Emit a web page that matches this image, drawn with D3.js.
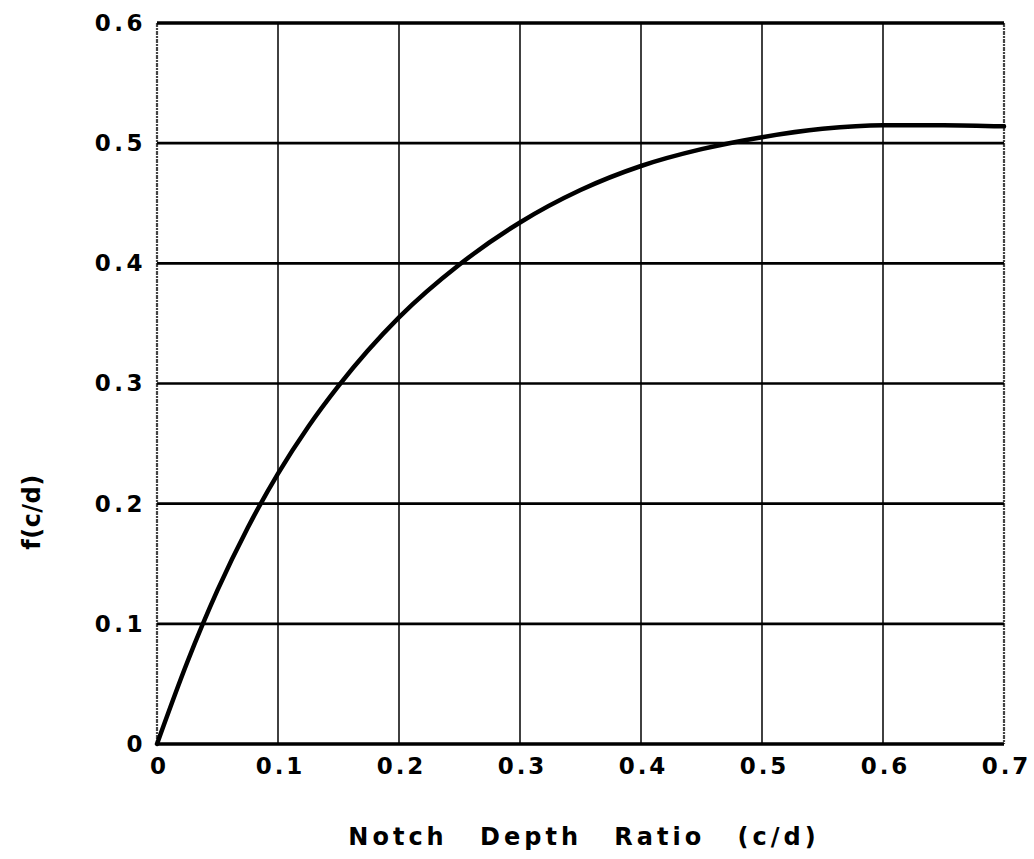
<!DOCTYPE html>
<html>
<head>
<meta charset="utf-8">
<script src="https://cdn.jsdelivr.net/npm/d3@7"></script>
<style>
  html, body { margin: 0; padding: 0; background: #fff; }
  svg { display: block; }
</style>
</head>
<body>
<svg id="chart" width="1034" height="859"></svg>
<script>
// ---- data ----
const ratioValues = [0, 0.025, 0.05, 0.075, 0.1, 0.125, 0.15, 0.2, 0.25, 0.3, 0.35, 0.4, 0.45, 0.5, 0.55, 0.6, 0.65, 0.7];
const fValues     = [0, 0.068, 0.128, 0.180, 0.225, 0.264, 0.298, 0.355, 0.399, 0.434, 0.461, 0.481, 0.495, 0.505, 0.512, 0.515, 0.515, 0.514];
const xTickValues = [0, 0.1, 0.2, 0.3, 0.4, 0.5, 0.6, 0.7];
const xTickLabels = ["0", "0.1", "0.2", "0.3", "0.4", "0.5", "0.6", "0.7"];
const yTickValues = [0, 0.1, 0.2, 0.3, 0.4, 0.5, 0.6];
const yTickLabels = ["0", "0.1", "0.2", "0.3", "0.4", "0.5", "0.6"];
const xTitle = "Notch Depth Ratio (c/d)";
const yTitle = "f(c/d)";

(function () {
const svg = d3.select("#chart");
const mLeft = 157, mRight = 1004, mTop = 23, mBottom = 744;

const x = d3.scaleLinear().domain([0, 0.7]).range([mLeft, mRight]);
const y = d3.scaleLinear().domain([0, 0.6]).range([mBottom, mTop]);

const labelFont = "'DejaVu Sans', sans-serif";

// vertical grid lines (interior, thin)
svg.append("g").selectAll("line")
  .data(xTickValues.filter(v => v > 0 && v < 0.7))
  .join("line")
  .attr("x1", d => x(d)).attr("x2", d => x(d))
  .attr("y1", y(0.6)).attr("y2", y(0))
  .attr("stroke", "#111").attr("stroke-width", 1.6);

// left / right borders (speckled)
svg.append("g").selectAll("line")
  .data([0, 0.7])
  .join("line")
  .attr("x1", d => x(d)).attr("x2", d => x(d))
  .attr("y1", y(0.6)).attr("y2", y(0))
  .attr("stroke", "#444").attr("stroke-width", 2.2)
  .attr("stroke-dasharray", "4,1,2,1");

// horizontal grid lines (thick)
svg.append("g").selectAll("line")
  .data(yTickValues)
  .join("line")
  .attr("x1", x(0)).attr("x2", x(0.7))
  .attr("y1", d => y(d)).attr("y2", d => y(d))
  .attr("stroke", "#000")
  .attr("stroke-width", d => (d === 0 || d === 0.6) ? 3.4 : 2.6);

// curve
const line = d3.line()
  .x((d, i) => x(ratioValues[i]))
  .y(d => y(d))
  .curve(d3.curveMonotoneX);

svg.append("path")
  .datum(fValues)
  .attr("d", line)
  .attr("fill", "none")
  .attr("stroke", "#000")
  .attr("stroke-width", 4.5)
  .attr("stroke-linecap", "round");

// x-axis tick labels
const xAxis = d3.axisBottom(x)
  .tickValues(xTickValues)
  .tickFormat((d, i) => xTickLabels[i])
  .tickSize(0)
  .tickPadding(0);
const gx = svg.append("g").attr("transform", `translate(2, ${mBottom + 14})`).call(xAxis);
gx.select(".domain").remove();
gx.selectAll("text")
  .attr("font-family", labelFont)
  .attr("font-size", 23)
  .attr("font-weight", "bold")
  .attr("letter-spacing", 3)
  .attr("fill", "#000");

// y-axis tick labels
const yAxis = d3.axisLeft(y)
  .tickValues(yTickValues)
  .tickFormat((d, i) => yTickLabels[i])
  .tickSize(0)
  .tickPadding(0);
const gy = svg.append("g").attr("transform", `translate(${mLeft - 11}, 0)`).call(yAxis);
gy.select(".domain").remove();
gy.selectAll("text")
  .attr("font-family", labelFont)
  .attr("font-size", 23)
  .attr("font-weight", "bold")
  .attr("letter-spacing", 3.5)
  .attr("fill", "#000");

// axis titles
svg.append("text")
  .attr("x", 584).attr("y", 845)
  .attr("text-anchor", "middle")
  .attr("font-family", labelFont)
  .attr("font-size", 24)
  .attr("font-weight", "bold")
  .attr("letter-spacing", 4)
  .attr("word-spacing", 20)
  .attr("fill", "#000")
  .text(xTitle);

svg.append("text")
  .attr("transform", "translate(40, 512) rotate(-90)")
  .attr("text-anchor", "middle")
  .attr("font-family", labelFont)
  .attr("font-size", 24)
  .attr("font-weight", "bold")
  .attr("letter-spacing", 0.5)
  .attr("fill", "#000")
  .text(yTitle);
})();
</script>
</body>
</html>
